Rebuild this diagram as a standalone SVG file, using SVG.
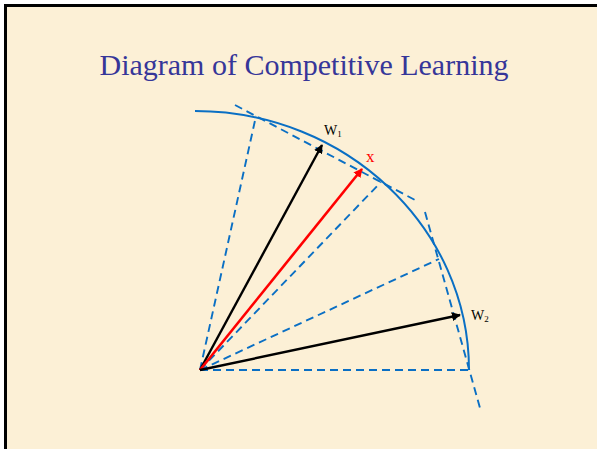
<svg xmlns="http://www.w3.org/2000/svg" width="597" height="449" viewBox="0 0 597 449">
<defs>
<style>
.dash{fill:none;stroke:#0a6fc4;stroke-width:1.9;stroke-dasharray:8,5}
.arc{fill:none;stroke:#0a6fc4;stroke-width:2}
.lbl{font-family:"Liberation Serif","Times New Roman",serif}
</style>
<marker id="ahK" viewBox="0 0 10 10" refX="9" refY="5" markerWidth="9" markerHeight="9" markerUnits="userSpaceOnUse" orient="auto"><path d="M0,0 L10,5 L0,10 z" fill="#000"/></marker>
<marker id="ahR" viewBox="0 0 10 10" refX="9" refY="5" markerWidth="9" markerHeight="9" markerUnits="userSpaceOnUse" orient="auto"><path d="M0,0 L10,5 L0,10 z" fill="#f00"/></marker>
</defs>
<rect x="0" y="0" width="597" height="449" fill="#fff"/>
<rect x="5.5" y="5.5" width="600" height="460" fill="#fcf0d6" stroke="#000" stroke-width="3"/>
<text class="lbl" x="304" y="75" font-size="30" fill="#363699" text-anchor="middle">Diagram of Competitive Learning</text>
<g id="connectors">
<path class="arc" d="M195,111 C346,111 469,228 469,370"/>
<line class="dash" x1="200" y1="370" x2="256" y2="116"/>
<line class="dash" x1="200" y1="370" x2="381" y2="182"/>
<line class="dash" x1="200" y1="370" x2="439" y2="259"/>
<line class="dash" x1="200" y1="370" x2="469" y2="370"/>
<line class="dash" x1="235" y1="105" x2="415" y2="200"/>
<line class="dash" x1="425" y1="212" x2="480" y2="408"/>
<line x1="200" y1="370" x2="322" y2="145" stroke="#000" stroke-width="2.4" marker-end="url(#ahK)"/>
<line x1="200" y1="370" x2="362" y2="169" stroke="#f00" stroke-width="2.6" marker-end="url(#ahR)"/>
<line x1="200" y1="370" x2="460" y2="315" stroke="#000" stroke-width="2.4" marker-end="url(#ahK)"/>
</g>
<g id="w1"><text class="lbl" x="324" y="135" font-size="14" fill="#000">W<tspan font-size="9" dy="2">1</tspan></text></g>
<g id="x"><text class="lbl" x="366" y="162" font-size="17" fill="#f00">x</text></g>
<g id="w2"><text class="lbl" x="471" y="320" font-size="14" fill="#000">W<tspan font-size="9" dy="2">2</tspan></text></g>
</svg>
